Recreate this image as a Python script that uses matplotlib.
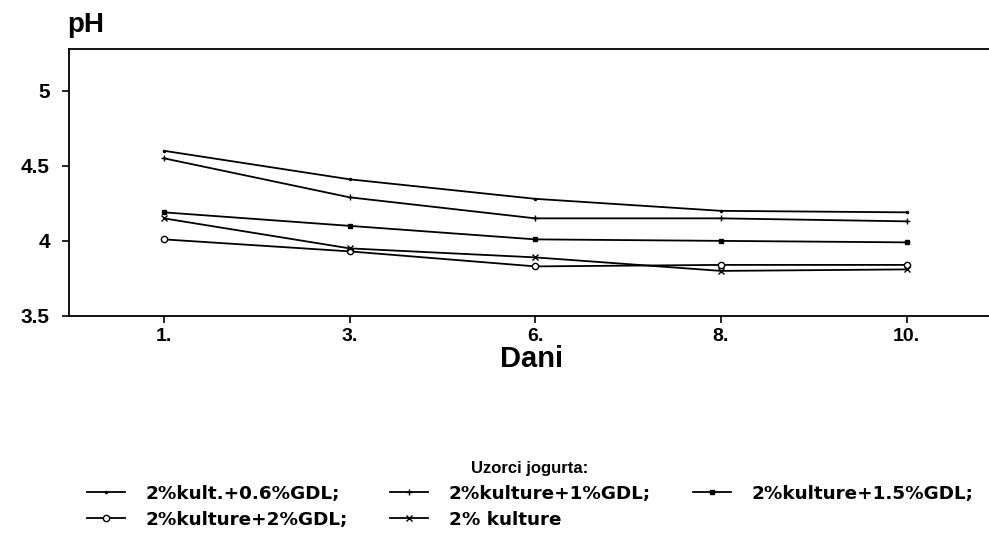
import matplotlib.pyplot as plt

plt.rcParams['font.family'] = ['Liberation Sans', 'DejaVu Sans']

days = ["1.", "3.", "6.", "8.", "10."]
series_names = ["2%kult.+0.6%GDL;", "2%kulture+1%GDL;", "2%kulture+1.5%GDL;",
                "2%kulture+2%GDL;", "2% kulture"]
ph_06 = [4.60, 4.41, 4.28, 4.20, 4.19]
ph_1 = [4.55, 4.29, 4.15, 4.15, 4.13]
ph_15 = [4.19, 4.10, 4.01, 4.00, 3.99]
ph_2 = [4.01, 3.93, 3.83, 3.84, 3.84]
ph_0 = [4.15, 3.95, 3.89, 3.80, 3.81]
markers = [".", "+", "s", "o", "x"]

fig = plt.figure(figsize=(9.89, 5.41), dpi=100)
ax = fig.add_axes([0.070, 0.416, 0.935, 0.494])

x = list(range(len(days)))
handles = []
for vals, name, m in zip([ph_06, ph_1, ph_15, ph_2, ph_0], series_names, markers):
    kw = dict(color="black", lw=1.3, marker=m, markersize=5, label=name)
    if m == "o":
        kw.update(markerfacecolor="white", markersize=4.5)
    elif m == "s":
        kw.update(markersize=3.5)
    elif m == ".":
        kw.update(markersize=3)
    h, = ax.plot(x, vals, **kw)
    handles.append(h)

ax.set_xlim(-0.51, 4.47)
ax.set_ylim(3.5, 5.28)
ax.set_xticks(x)
ax.set_xticklabels(days, fontsize=14, fontweight="bold")
ax.set_yticks([3.5, 4, 4.5, 5])
ax.set_yticklabels(["3.5", "4", "4.5", "5"], fontsize=15, fontweight="bold")
ax.tick_params(direction="out", length=5, width=1.2, colors="black")
ax.tick_params(axis="y", pad=9)
ax.spines["right"].set_visible(False)
for s in ["left", "top", "bottom"]:
    ax.spines[s].set_linewidth(1.3)

ax.set_xlabel("Dani", fontsize=21, fontweight="bold", labelpad=0)
fig.text(0.068, 0.93, "pH", fontsize=20, fontweight="bold", ha="left", va="bottom")

order = [0, 3, 1, 4, 2]
leg = fig.legend([handles[i] for i in order], [series_names[i] for i in order],
                 ncol=3, loc="center", bbox_to_anchor=(0.536, 0.085),
                 title="Uzorci jogurta:", frameon=False,
                 prop={"family": "DejaVu Sans", "size": 13.2, "weight": "bold"},
                 handlelength=2.1, handletextpad=1.1,
                 columnspacing=2.3, labelspacing=0.45)
leg.get_title().set_fontweight("bold")
leg.get_title().set_fontsize(12)

fig.savefig("out.png", dpi=100)
